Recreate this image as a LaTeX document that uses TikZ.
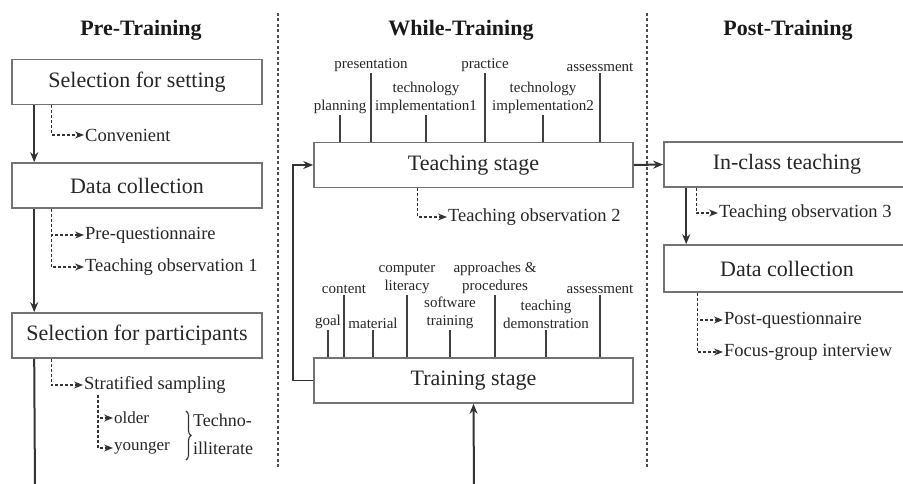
\documentclass[tikz,border=0pt]{standalone}
\usepackage{fontspec}
\setmainfont{Liberation Serif}
\usetikzlibrary{arrows.meta,decorations.pathreplacing,calc}
\begin{document}
\begin{tikzpicture}[x=1pt,y=-1pt,
 box/.style={draw=black!55, line width=1.6pt, fill=white, minimum width=250pt, minimum height=45pt, inner sep=0pt, font=\fontsize{22}{24}\selectfont, text=black!85},
 ttl/.style={font=\fontsize{22}{24}\selectfont\bfseries, text=black!90},
 txt/.style={font=\fontsize{18.5}{20}\selectfont, anchor=west, inner sep=1pt, text=black!85},
 stxt/.style={font=\fontsize{17}{18}\selectfont, anchor=west, inner sep=1pt, text=black!85},
 sml/.style={font=\fontsize{15}{18}\selectfont, align=center, anchor=south, inner sep=1pt, text=black!85},
 arr/.style={draw=black!80, line width=2pt, -{Stealth[length=10pt,width=8pt]}},
 plain/.style={draw=black!80, line width=2pt},
 dsh/.style={draw=black!80, line width=1.2pt, dash pattern=on 3pt off 2pt, -{Stealth[length=9pt,width=7pt]}},
 tick/.style={draw=black!75, line width=1.8pt},
 sep/.style={draw=black!70, line width=1.2pt, dash pattern=on 3pt off 2.5pt}]
\useasboundingbox (0,0) rectangle (903,484);
\clip (0,0) rectangle (903,484);

% separators
\coordinate (sa1) at (278,13); \coordinate (sa2) at (278,467);
\coordinate (sb1) at (647,13); \coordinate (sb2) at (647,467);
\draw[sep] (sa1) -- (sa2);
\draw[sep] (sb1) -- (sb2);

% titles
\node[ttl] (t1) at (141,30) {Pre-Training};
\node[ttl] (t2) at (461,30) {While-Training};
\node[ttl] (t3) at (788,30) {Post-Training};

% boxes
\node[box] (s1) at (137,82) {Selection for setting};
\node[box] (s2) at (137,185.5) {Data collection};
\node[box] (s3) at (137,335.5) {Selection for participants};
\node[box, minimum width=319pt] (teach) at (473.5,165) {Teaching stage};
\node[box, minimum width=319pt] (train) at (473.5,380.5) {Training stage};
\node[box, minimum width=246pt] (inc) at (787,164.5) {In-class teaching};
\node[box, minimum width=246pt, minimum height=47pt] (dc2) at (787,268.5) {Data collection};

% texts
\node[txt] (conv) at (84,135) {Convenient};
\node[txt] (preq) at (84,235) {Pre-questionnaire};
\node[txt] (to1) at (84,267) {Teaching observation 1};
\node[txt] (strat) at (83,385) {Stratified sampling};
\node[stxt] (older) at (113,418) {older};
\node[stxt] (young) at (113,448) {younger};
\node[stxt, font=\fontsize{18}{18}\selectfont] (tech) at (192,420) {Techno-};
\node[stxt, font=\fontsize{18}{18}\selectfont] (illit) at (192,448) {illiterate};
\node[txt] (to2) at (447,217) {Teaching observation 2};
\node[txt] (to3) at (718,213) {Teaching observation 3};
\node[txt] (postq) at (723,320) {Post-questionnaire};
\node[txt] (focus) at (723,352) {Focus-group interview};

% left column connectors
\draw[arr] ([xshift=23pt]s1.south west) -- ([xshift=23pt]s2.north west);
\draw[arr] ([xshift=23pt]s2.south west) -- ([xshift=23pt]s3.north west);
\coordinate (lb) at (35,490);
\draw[plain] ([xshift=23pt]s3.south west) -- (lb);
\draw[dsh] ([xshift=40pt]s1.south west) |- (conv.west);
\draw[dsh] ([xshift=40pt]s2.south west) |- (preq.west);
\draw[dsh] ([xshift=40pt]s2.south west) |- (to1.west);
\draw[dsh] ([xshift=40pt]s3.south west) |- (strat.west);
\draw[dsh] ([xshift=15pt]strat.south west) |- (older.west);
\draw[dsh] ([xshift=15pt]strat.south west) |- (young.west);
\draw[decorate, decoration={brace, amplitude=5pt}, line width=1.1pt, draw=black!80] (186,411) -- (186,460);

% teaching stage labels
\node[sml] (lplan) at (340,115) {planning};
\node[sml] (lpres) at (371,73) {presentation};
\node[sml] (ltech1) at (426,115) {technology\\implementation1};
\node[sml] (lprac) at (485,73) {practice};
\node[sml] (ltech2) at (543,115) {technology\\implementation2};
\node[sml] (lass1) at (600,73) {assessment};
\foreach \n in {lplan,lpres,ltech1,lprac,ltech2,lass1}
  \draw[tick] (\n.south) -- (\n.south |- teach.north);

% training stage labels
\node[sml] (lgoal) at (328,330) {goal};
\node[sml] (lcont) at (344,295) {content};
\node[sml] (lmat) at (373,330) {material};
\node[sml] (lcomp) at (407,295) {computer\\literacy};
\node[sml] (lsoft) at (450,330) {software\\training};
\node[sml] (lappr) at (495,295) {approaches \&\\procedures};
\node[sml] (ldemo) at (546,330) {teaching\\demonstration};
\node[sml] (lass2) at (600,295) {assessment};
\foreach \n in {lgoal,lcont,lmat,lcomp,lsoft,lappr,ldemo,lass2}
  \draw[tick] (\n.south) -- (\n.south |- train.north);

% middle connectors
\draw[dsh] ([xshift=104pt]teach.south west) |- (to2.west);
\draw[arr, line width=1.6pt] (train.west) -- ++(-20,0) |- (teach.west);
\coordinate (tb) at (474,490);
\draw[arr] (tb) -- (train.south);
\draw[arr] (teach.east) -- (inc.west);

% right connectors
\draw[arr] ([xshift=23pt]inc.south west) -- ([xshift=23pt]dc2.north west);
\draw[dsh] ([xshift=33pt]inc.south west) |- (to3.west);
\draw[dsh] ([xshift=34pt]dc2.south west) |- (postq.west);
\draw[dsh] ([xshift=34pt]dc2.south west) |- (focus.west);
\end{tikzpicture}
\end{document}
